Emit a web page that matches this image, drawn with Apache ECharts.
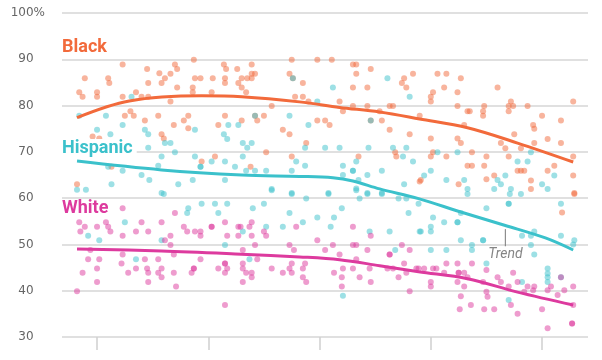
<!DOCTYPE html>
<html>
<head>
<meta charset="utf-8">
<script src="https://cdn.jsdelivr.net/npm/echarts@6/dist/echarts.min.js"></script>
<style>html,body{margin:0;padding:0;background:#fff}#c{width:602px;height:360px}</style>
</head>
<body>
<div id="c"></div>
<script>
// ---- data ----
const yTicks = [30, 40, 50, 60, 70, 80, 90, 100];
const xTicks = [0, 10, 20, 30, 40];
const groups = ['Black', 'Hispanic', 'White'];

const blackPts = [
[2.3,88.9],[4.5,87.9],[7.0,88.9],[7.2,87.9],[8.7,89.9],[11.4,88.9],[11.6,87.9],[12.6,87.9],
[-1.1,85.9],[1.0,85.9],[1.1,84.9],[4.6,84.9],[5.6,87.0],[6.6,86.9],[6.1,85.9],[5.8,84.9],
[8.8,85.9],[9.3,85.9],[10.4,85.9],[11.5,85.9],[11.5,84.9],[12.7,84.9],[7.2,83.9],[8.6,83.9],
[-1.6,82.9],[-1.3,81.9],[0,82.9],[0,81.9],[2.3,81.9],[3.5,82.9],[4.0,81.9],[4.6,81.9],
[8.6,82.9],[10.3,82.9],[6.6,80.9],[3.0,78.8],[2.5,77.8],[3.3,77.8],[4.3,76.8],[5.5,77.8],
[8.2,77.8],[7.8,76.8],[11.5,77.8],[6.9,75.8],[8.2,75.1],[10.9,75.8],[-0.4,73.3],[0.2,72.9],
[5.8,73.8],[6.0,72.9],[9.4,67.9],[10.6,69.0],[1.3,66.8],[-1.8,63.0],
[13.9,88.9],[17.5,89.9],[19.8,89.9],[21.1,89.9],[14.2,86.9],[13.9,86.9],[13.5,85.9],[13.0,85.9],
[13.9,85.9],[17.3,86.9],[18.5,84.9],[23.0,88.9],[23.3,88.9],[23.3,86.9],[24.6,87.9],[23.0,83.9],
[24.3,83.9],[28.4,86.9],[27.6,85.9],[27.4,84.9],[27.8,83.9],[13.0,83.9],[13.4,82.9],[17.8,81.9],
[18.5,81.9],[19.0,80.9],[21.8,80.9],[22.1,78.8],[15.7,79.9],[23.0,79.9],[24.3,79.9],[26.3,79.9],
[26.6,79.9],[25.4,78.8],[13.0,76.8],[14.4,76.8],[15.0,77.8],[19.8,76.8],[20.5,76.8],[20.9,75.8],
[16.7,74.8],[17.3,73.8],[25.6,76.8],[26.3,74.8],[28.1,73.8],[18.8,71.9],[15.2,69.9],[17.5,69.0],
[13.8,66.8],[23.5,69.0],[26.8,69.9],[26.9,69.0],[29.0,63.6],[17.6,85.9],[24.6,76.8],[14.2,77.8],
[30.6,86.9],[31.4,86.9],[32.7,85.9],[31.2,83.9],[32.4,82.9],[30.2,82.9],[30.0,81.9],[30.0,80.9],
[36.0,83.9],[32.4,79.9],[33.3,78.8],[33.5,78.8],[34.7,78.8],[34.8,79.9],[34.7,77.8],[37.0,78.8],
[37.2,80.9],[37.4,79.9],[37.0,79.9],[38.7,79.9],[40.0,77.8],[39.2,75.8],[39.3,75.0],[41.7,76.8],
[42.8,80.9],[29.0,77.8],[33.0,75.8],[30.0,72.9],[32.4,72.9],[32.7,71.9],[37.5,73.8],[36.3,71.9],
[36.7,70.8],[38.1,70.8],[39.3,71.9],[40.5,72.8],[41.7,71.9],[30.2,69.9],[30.0,69.0],[31.4,69.0],
[33.7,69.9],[35.0,69.0],[37.0,69.0],[33.3,67.0],[33.7,67.0],[34.8,67.0],[37.8,65.9],[38.1,65.9],
[38.4,65.9],[40.5,65.9],[41.1,67.0],[42.8,69.0],[42.8,64.9],[29.1,63.9],[32.5,63.0],[35.0,64.1],
[35.7,64.9],[39.0,62.0],[42.9,61.1],[42.9,60.9],[41.8,56.9],[39.0,63.8]
];

const hispanicPts = [
[3.1,81.9],[-1.6,77.8],[0.8,77.8],[0,74.8],[1.2,73.8],[2.3,75.8],[4.3,74.8],[4.6,73.8],
[8.8,74.8],[11.8,75.8],[12.7,75.8],[11.4,73.8],[11.7,72.8],[6.1,71.9],[6.6,71.9],[4.6,70.9],
[7.0,69.9],[8.8,69.0],[5.8,69.0],[1.0,66.8],[2.3,65.9],[5.5,67.0],[4.0,65.0],[4.7,63.9],
[7.3,63.0],[8.6,63.9],[9.3,66.8],[9.3,66.8],[10.3,67.9],[11.5,67.9],[11.5,63.9],[1.3,63.0],
[-1.8,61.8],[-1.0,61.8],[5.8,61.1],[12.4,66.8],
[17.6,85.9],[26.1,85.9],[21.2,83.9],[19.8,80.9],[28.1,81.9],[14.2,77.8],[17.3,77.8],[19.0,75.8],
[24.6,76.8],[13.1,71.9],[13.9,71.9],[13.5,70.9],[18.7,70.9],[20.5,70.9],[21.8,70.9],[24.4,70.9],
[26.6,70.9],[27.8,70.9],[27.5,69.0],[13.1,69.0],[17.9,67.9],[18.7,67.0],[22.1,67.0],[23.3,67.9],
[28.4,67.9],[13.4,65.9],[14.2,65.9],[15.2,65.9],[17.5,65.9],[23.0,65.9],[23.0,65.9],[22.1,65.0],
[25.6,65.9],[24.3,65.0],[23.5,63.9],[27.6,63.0],[23.3,62.1],[15.7,62.0],[17.5,61.1],[20.8,61.1],
[24.3,61.1],[25.6,61.1],
[30.6,69.9],[32.4,69.9],[37.8,67.9],[38.7,67.9],[39.0,69.9],[29.4,64.9],[30.0,65.9],[31.4,63.9],
[33.0,63.9],[33.3,62.0],[35.7,62.0],[36.0,63.9],[36.3,63.0],[36.7,64.9],[37.2,62.0],[40.0,63.0],
[41.1,64.9],[40.5,62.0],
[6.0,60.9],[9.4,58.8],[10.6,58.8],[11.7,58.8],[8.2,57.8],[8.1,56.8],[10.9,56.8],[2.5,54.8],
[-0.8,51.9],[0.2,50.9],[5.8,50.9],[11.5,49.9],[3.5,46.8],
[15.7,61.7],[17.5,60.9],[18.8,59.9],[20.8,60.9],[23.3,61.7],[23.6,59.9],[24.3,60.9],[25.6,60.9],
[14.0,57.8],[15.0,58.8],[17.3,56.8],[22.0,57.8],[21.3,55.8],[19.8,55.8],[18.5,54.8],[16.7,53.8],
[15.2,53.8],[21.0,53.8],[13.1,52.8],[24.5,52.8],[26.3,52.8],[29.0,52.8],[26.8,48.8],[13.7,46.8],
[22.1,38.9],[27.1,59.9],[27.8,59.9],[28.9,58.8],[28.0,56.8],
[33.3,60.9],[37.1,60.9],[38.1,60.9],[32.7,56.8],[35.0,57.8],[37.0,58.8],[37.0,58.8],[41.7,58.8],
[30.2,55.8],[31.2,54.8],[32.4,54.8],[32.4,54.8],[30.0,53.8],[30.0,52.8],[29.1,52.8],[38.2,51.9],
[39.3,52.8],[39.0,51.9],[41.7,51.9],[32.7,50.9],[33.7,49.9],[34.7,50.9],[34.7,50.9],[42.9,50.9],
[30.0,48.8],[31.4,48.8],[33.7,48.8],[39.0,49.9],[39.3,47.8],[35.0,45.9],[40.5,44.8],[40.5,43.7],
[40.5,42.9],[40.5,41.9],[41.7,42.9],[38.2,41.9],[37.0,38.0],[42.8,50.0]
];

const whitePts = [
[2.3,57.8],[7.0,56.8],[-1.6,54.8],[-1.1,53.8],[-1.5,52.8],[0,53.8],[0.8,54.8],[1.0,53.8],
[1.2,52.8],[4.0,54.8],[5.8,54.8],[2.3,51.9],[3.5,52.8],[4.6,52.8],[6.6,51.9],[6.1,50.9],
[6.6,49.9],[7.8,53.8],[8.1,52.8],[8.8,52.8],[9.3,52.8],[9.3,51.9],[10.3,53.8],[10.3,53.8],
[11.5,54.8],[11.7,51.9],[12.7,51.9],[12.7,53.8],[-0.8,46.8],[0.2,46.8],[2.3,47.8],[2.2,45.9],
[4.3,46.8],[5.5,46.8],[6.9,47.8],[9.3,46.8],[0,44.8],[-1.3,43.9],[2.8,43.9],[3.5,44.8],
[4.5,44.8],[4.6,43.9],[5.5,43.9],[5.8,44.8],[5.8,42.9],[6.9,43.9],[8.7,44.8],[8.7,44.8],
[8.5,43.9],[10.9,44.8],[11.5,45.9],[11.5,45.9],[11.7,44.8],[11.5,43.9],[0,41.9],[4.6,41.9],
[7.1,40.9],[-1.8,39.9],[11.5,36.9],[-0.6,48.8],
[13.9,54.8],[13.7,53.8],[12.9,53.8],[13.9,51.9],[15.0,52.8],[15.2,51.9],[17.9,53.8],[14.2,49.9],
[13.1,48.8],[14.4,46.8],[13.1,45.9],[13.1,44.8],[13.4,43.9],[13.9,43.9],[13.9,42.9],[13.1,41.9],
[15.7,44.8],[16.7,43.9],[17.3,44.8],[17.5,45.9],[17.5,43.9],[18.5,44.8],[18.7,45.9],[18.5,42.9],
[18.8,41.9],[17.3,49.9],[17.7,48.8],[19.8,50.9],[20.5,48.8],[21.2,49.9],[21.8,47.8],[23.0,53.8],
[24.6,51.9],[23.0,49.9],[23.3,49.9],[24.3,48.8],[23.3,46.8],[21.3,43.9],[22.1,44.8],[22.0,42.9],
[22.0,40.9],[23.0,44.8],[23.6,42.9],[24.5,44.8],[24.6,41.9],[26.3,47.8],[26.3,47.8],[27.4,49.9],
[28.1,48.8],[27.6,45.9],[26.1,44.8],[26.6,44.8],[27.8,43.9],[27.1,42.9],[28.1,39.9],[28.7,44.8],
[28.9,44.8],[29.4,44.8],[30.2,44.8],[30.5,44.8],[31.4,45.9],[32.4,45.9],[31.2,43.9],[32.5,43.9],
[32.5,43.9],[33.7,45.9],[33.0,43.9],[35.0,44.5],[33.3,42.9],[30.0,41.9],[30.0,40.9],[32.4,41.9],
[34.7,41.9],[33.0,40.9],[36.0,42.9],[36.3,41.9],[37.4,43.9],[37.8,41.9],[38.7,40.9],[39.2,40.1],
[39.3,40.9],[37.0,40.9],[35.0,39.8],[35.1,38.7],[32.7,38.8],[40.5,40.1],[40.8,40.9],[41.7,42.9],
[42.0,40.1],[42.8,40.9],[41.4,39.1],[42.8,36.9],[35.7,36.0],[34.8,36.0],[32.6,36.0],[33.6,36.9],
[37.2,36.9],[37.8,35.0],[40.0,36.0],[40.5,31.9],[42.7,32.9],[42.7,32.9],[38.4,39.8]
];

const blackTrend = [[-1.8,77.4],[2.9,81.0],[9.4,82.1],[13.0,81.9],[18.2,80.8],[21.8,79.6],[25.4,78.6],[29.0,77.1],[33.3,75.2],[37.8,71.9],[42.8,67.8]];
const hispanicTrend = [[-1.8,68.0],[5.8,66.1],[13.0,65.0],[18.2,64.7],[21.2,64.4],[23.0,63.7],[25.4,62.0],[28.9,59.9],[32.7,57.0],[36.7,54.1],[40.3,51.4],[42.8,48.8]];
const whiteTrend = [[-1.8,49.0],[5.8,48.6],[13.0,47.9],[18.2,47.3],[21.8,46.7],[25.4,45.4],[28.9,44.1],[33.3,42.6],[37.8,39.7],[42.8,36.9]];

const trendNote = [[36.7, 53.3], [36.7, 49.6]];
const trendNoteText = 'Trend';

// ---- chart ----
const C = {
  black: '#f26a3b', hisp: '#3bc1cb', white: '#dd3a9e'
};
const chart = echarts.init(document.getElementById('c'), null, {renderer: 'canvas'});

function dots(name, pts, color) {
  return {
    name, type: 'scatter', data: pts, symbolSize: 6, z: 2,
    itemStyle: {color, opacity: 0.5}, silent: true
  };
}
function trend(name, pts, color) {
  return {
    name, type: 'line', data: pts, smooth: 0.35, symbol: 'none', z: 5,
    lineStyle: {color, width: 3}, silent: true
  };
}

chart.setOption({
  animation: false,
  grid: {left: 62, right: 14, top: 13, bottom: 23},
  xAxis: {
    type: 'value', min: -3.15, max: 44.13,
    axisLine: {show: false},
    splitLine: {show: false},
    axisLabel: {show: false},
    axisTick: {show: true, customValues: xTicks, length: 13, lineStyle: {color: '#cfcfcf', width: 1.5}}
  },
  yAxis: {
    type: 'value', min: 30, max: 100, interval: 10,
    axisLine: {show: false}, axisTick: {show: false},
    splitLine: {lineStyle: {color: '#e0e0e0', width: 2}},
    axisLabel: {
      margin: 17, color: '#666', fontSize: 12, fontFamily: 'DejaVu Sans',
      formatter: v => v === 100 ? '100%' : v + '{h|%}',
      rich: {h: {color: 'rgba(0,0,0,0)', fontSize: 12, fontFamily: 'DejaVu Sans'}}
    }
  },
  graphic: [
    {type: 'text', left: 62, top: 38, z: 10, style: {text: groups[0], fill: C.black, font: 'bold 18px Roboto'}},
    {type: 'text', left: 62, top: 139, z: 10, style: {text: groups[1], fill: C.hisp, font: 'bold 18px Roboto', backgroundColor: '#fff', padding: [0, 4, 0, 0]}},
    {type: 'text', left: 62, top: 199, z: 10, style: {text: groups[2], fill: C.white, font: 'bold 18px Roboto'}}
  ],
  series: [
    dots('Black', blackPts, C.black),
    dots('Hispanic', hispanicPts, C.hisp),
    dots('White', whitePts, C.white),
    trend('Black trend', blackTrend, C.black),
    trend('Hispanic trend', hispanicTrend, C.hisp),
    trend('White trend', whiteTrend, C.white),
    {
      type: 'line', data: trendNote, symbol: 'none', z: 6, silent: true,
      lineStyle: {color: '#777', width: 1}
    },
    {
      type: 'scatter', data: [trendNote[1]], symbolSize: 1, z: 6, silent: true,
      itemStyle: {color: 'rgba(0,0,0,0)'},
      label: {show: true, formatter: trendNoteText, position: 'bottom', distance: 1,
        color: '#666', fontSize: 14, fontStyle: 'italic', fontFamily: 'Roboto'}
    }
  ]
});
</script>
</body>
</html>
